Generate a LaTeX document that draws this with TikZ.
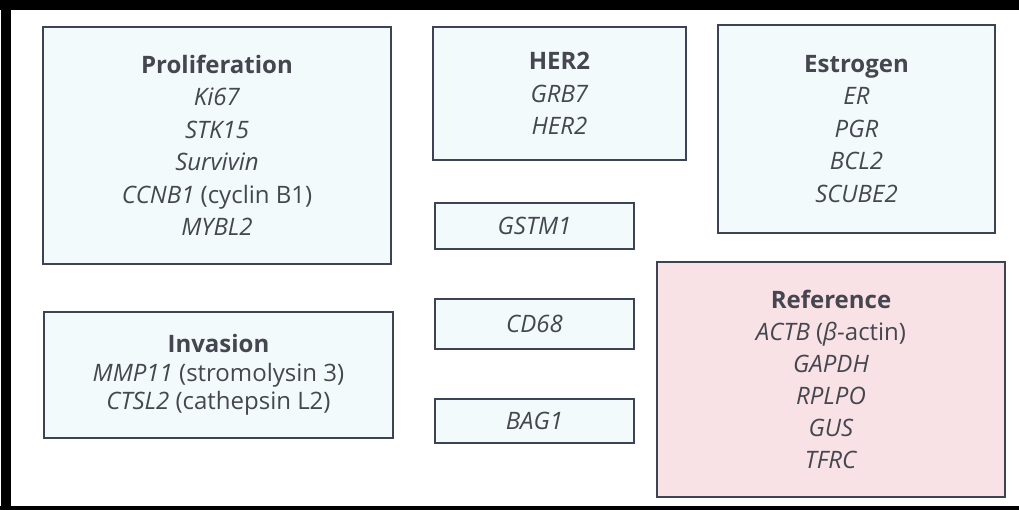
\documentclass[tikz,border=0pt]{standalone}
\usepackage{fontspec}
\setmainfont{Open Sans}
\definecolor{boxline}{HTML}{3D4255}
\definecolor{boxblue}{HTML}{F3FAFC}
\definecolor{boxpink}{HTML}{F9E2E6}
\definecolor{txt}{HTML}{45464F}
\tikzset{
  group/.style={draw=boxline, line width=2.4pt, fill=boxblue, rectangle,
    align=center, text=txt, inner sep=0pt,
    font=\fontsize{24}{32.5}\selectfont},
  refgroup/.style={group, fill=boxpink},
}
\newcommand{\gname}[1]{\textbf{#1}}
\newcommand{\gene}[1]{\textit{#1}}
\begin{document}
\begin{tikzpicture}[x=1pt,y=-1pt]
  \useasboundingbox (0,0) rectangle (1019,510);
  % page frame
  \fill[white] (0,0) rectangle (1019,510);
  \fill[black] (0,0) rectangle (1019,10);
  \fill[black] (1,0) rectangle (11,510);
  \fill[black] (0,506) rectangle (1019,510);

  % gene groups
  \node[group, minimum width=348pt, minimum height=237pt] (prolif) at (217,145.5)
    {\gname{Proliferation}\\ \gene{Ki67}\\ \gene{STK15}\\ \gene{Survivin}\\
     \gene{CCNB1} (cyclin B1)\\ \gene{MYBL2}};
  \node[group, minimum width=253pt, minimum height=133pt] (her2) at (559.5,93.5)
    {\gname{HER2}\\ \gene{GRB7}\\ \gene{HER2}};
  \node[group, minimum width=277pt, minimum height=208pt] (estro) at (856.5,129)
    {\gname{Estrogen}\\ \gene{ER}\\ \gene{PGR}\\ \gene{BCL2}\\ \gene{SCUBE2}};
  \node[group, minimum width=199pt, minimum height=46pt] (gstm) at (534.5,226)
    {\gene{GSTM1}};
  \node[group, minimum width=349pt, minimum height=126pt,
        font=\fontsize{24}{28.5}\selectfont] (inv) at (218.5,375)
    {\gname{Invasion}\\ \gene{MMP11} (stromolysin 3)\\ \gene{CTSL2} (cathepsin L2)};
  \node[group, minimum width=199pt, minimum height=50pt] (cd68) at (534.5,324)
    {\gene{CD68}};
  \node[group, minimum width=199pt, minimum height=44pt] (bag) at (534.5,421)
    {\gene{BAG1}};
  \node[refgroup, minimum width=348pt, minimum height=235pt,
        font=\fontsize{24}{32}\selectfont] (ref) at (831,379.5)
    {\gname{Reference}\\ \gene{ACTB} (\gene{β}-actin)\\ \gene{GAPDH}\\
     \gene{RPLPO}\\ \gene{GUS}\\ \gene{TFRC}};
\end{tikzpicture}
\end{document}
